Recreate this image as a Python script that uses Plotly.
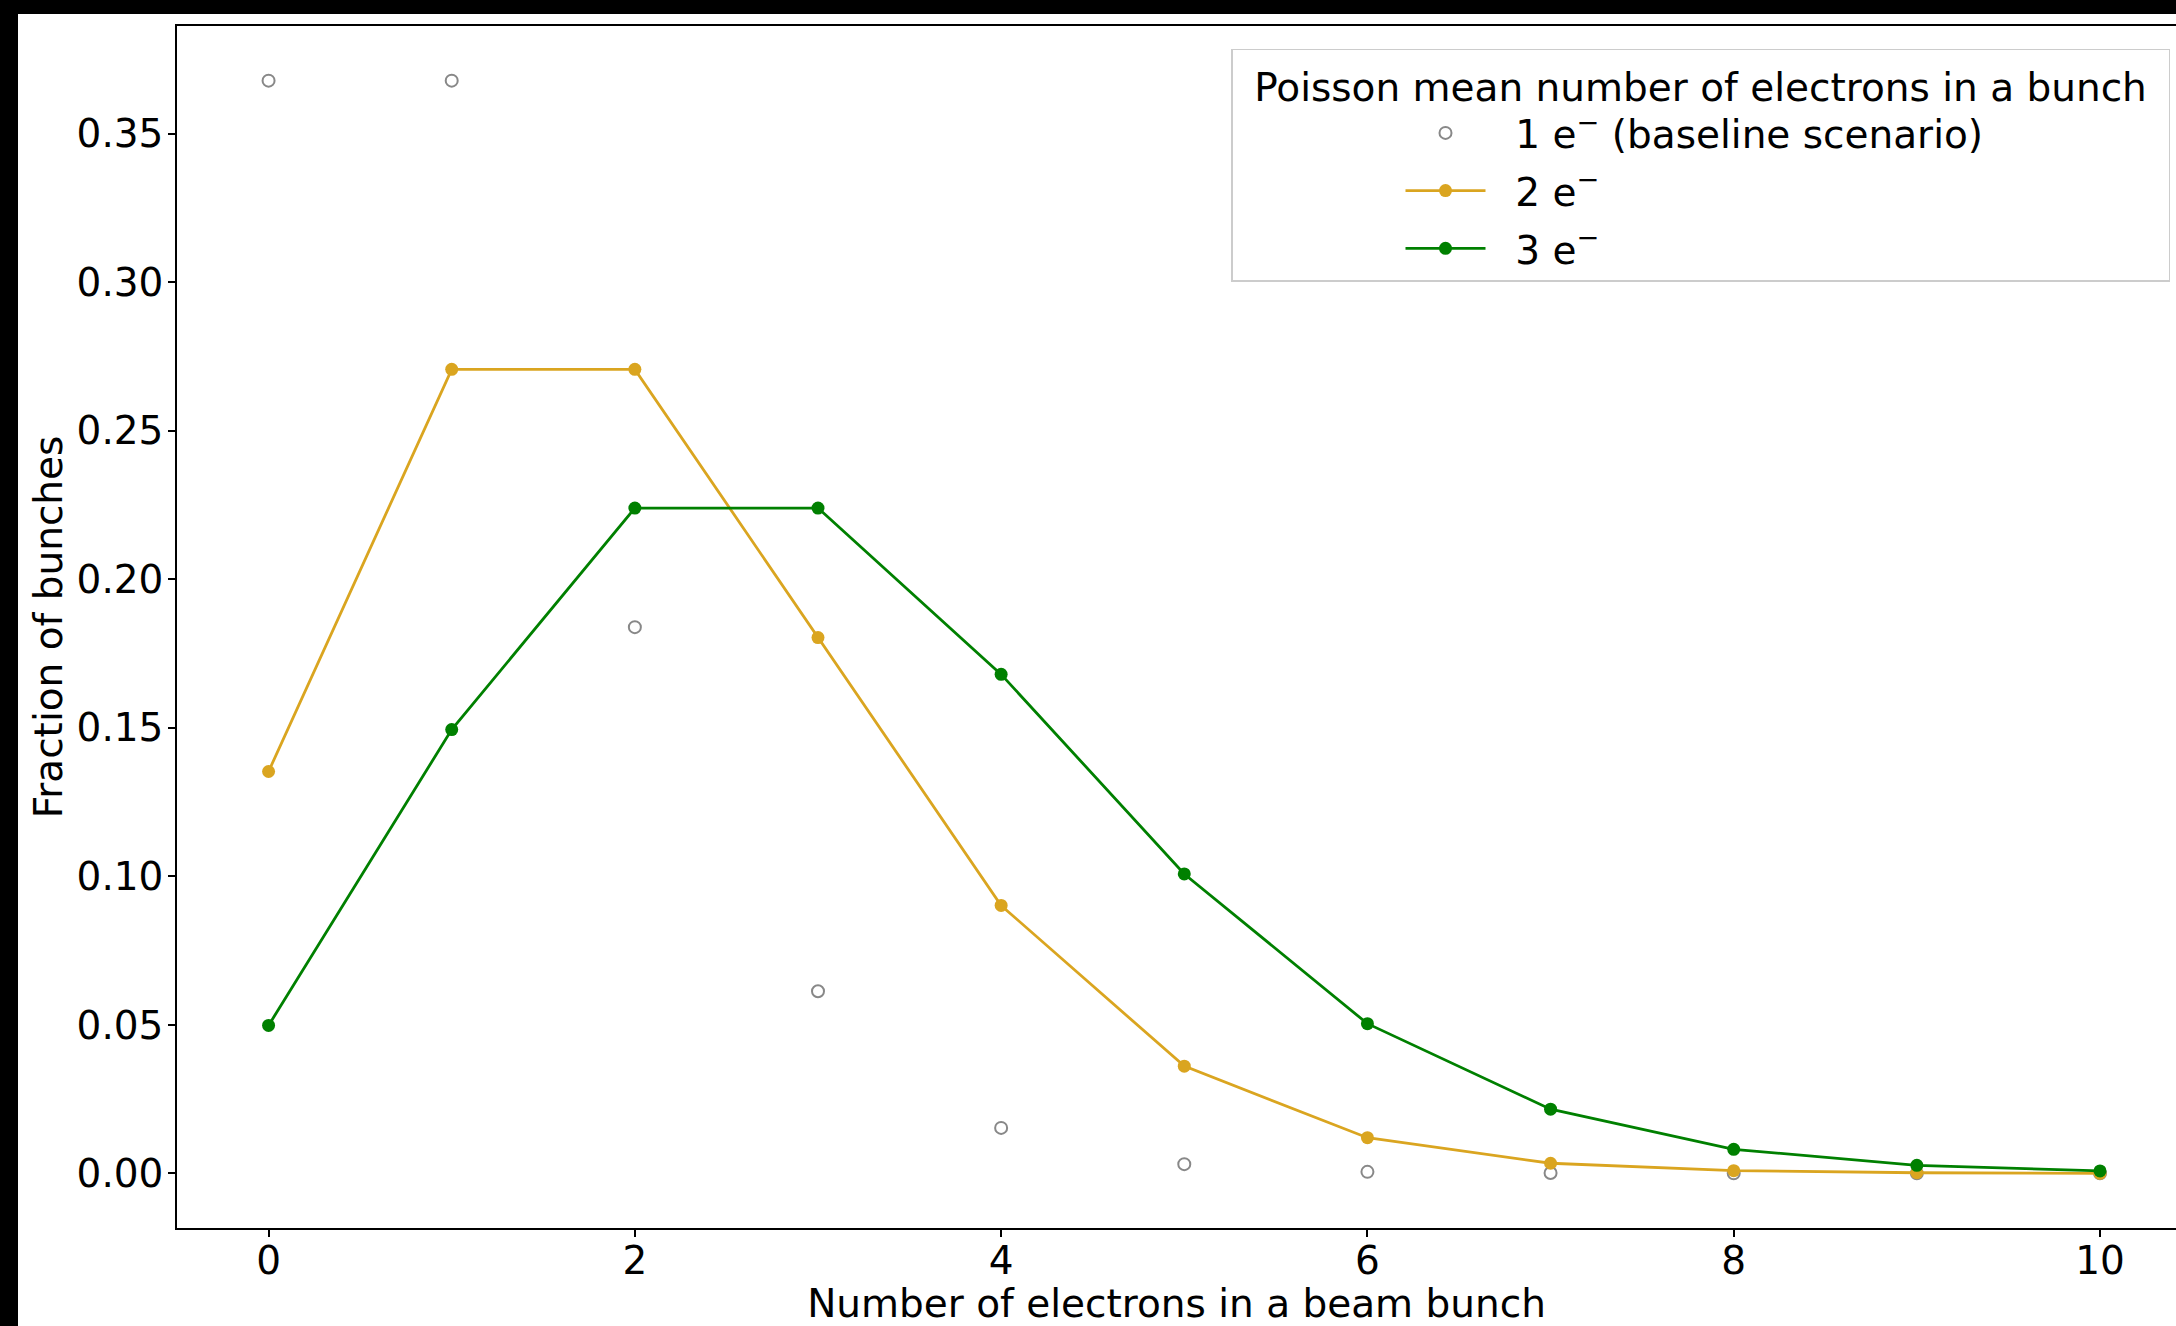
import plotly.graph_objects as go

# ---- data ----
n_electrons = [0, 1, 2, 3, 4, 5, 6, 7, 8, 9, 10]
frac_mean1 = [0.3679, 0.3679, 0.1839, 0.0613, 0.0153, 0.0031, 0.0005, 0.0001, 0.0000, 0.0000, 0.0000]
frac_mean2 = [0.1353, 0.2707, 0.2707, 0.1804, 0.0902, 0.0361, 0.0120, 0.0034, 0.0009, 0.0002, 0.0000]
frac_mean3 = [0.0498, 0.1494, 0.2240, 0.2240, 0.1680, 0.1008, 0.0504, 0.0216, 0.0081, 0.0027, 0.0008]
series_names = ["1 e<sup>−</sup> (baseline scenario)", "2 e<sup>−</sup>", "3 e<sup>−</sup>"]
legend_title = "Poisson mean number of electrons in a bunch"
x_ticks = [0, 2, 4, 6, 8, 10]
y_ticks = [0.00, 0.05, 0.10, 0.15, 0.20, 0.25, 0.30, 0.35]

FONT = "DejaVu Sans"
FS = 39
GAP = "\u00a0\u00a0"  # space between legend handle and label

fig = go.Figure()
fig.add_trace(go.Scatter(
    x=n_electrons, y=frac_mean1, mode="markers", name=GAP + series_names[0], legendgroup="g1",
    marker=dict(symbol="circle-open", size=12, color="#888888", line=dict(width=2, color="#888888")),
))
fig.add_trace(go.Scatter(
    x=n_electrons, y=frac_mean2, mode="lines+markers", name=GAP + series_names[1], legendgroup="g2",
    line=dict(color="#DAA520", width=2.8),
    marker=dict(symbol="circle", size=13, color="#DAA520"),
))
fig.add_trace(go.Scatter(
    x=n_electrons, y=frac_mean3, mode="lines+markers", name=GAP + series_names[2], legendgroup="g3",
    line=dict(color="#008000", width=2.8),
    marker=dict(symbol="circle", size=13, color="#008000"),
))

W, H = 2176, 1326
ML, MR, MT, MB = 177, 0, 26, 98
pw = W - ML - MR
ph = H - MT - MB

# white canvas inside the black frame (frame: 18px left, 14px top)
fig.add_shape(type="rect", xref="paper", yref="paper", layer="below",
              x0=(18 - ML) / pw, x1=1.0 + 2 / pw,
              y0=-(MB + 2) / ph, y1=(H - MB - 14) / ph,
              fillcolor="white", line=dict(width=0))

fig.update_layout(
    width=W, height=H, autosize=False,
    margin=dict(l=ML, r=MR, t=MT, b=MB, pad=0),
    paper_bgcolor="black", plot_bgcolor="white",
    font=dict(family=FONT, size=FS, color="black"),
    showlegend=True,
    legend=dict(
        x=0.997, xanchor="right", y=0.981, yanchor="top",
        bgcolor="rgba(255,255,255,0.8)", bordercolor="#cccccc", borderwidth=1.5,
        title=dict(text="\u2002" + legend_title + "\u2002", side="top center",
                   font=dict(family=FONT, size=FS, color="black")),
        font=dict(family=FONT, size=FS, color="black"),
        indentation=168, itemwidth=80, tracegroupgap=4,
    ),
    xaxis=dict(
        range=[-0.5, 10.415], tickvals=x_ticks, ticktext=[str(v) for v in x_ticks],
        showgrid=False, zeroline=False, showline=True, linecolor="black", linewidth=1.5,
        mirror=True, ticks="outside", ticklen=7, tickwidth=1.5, tickcolor="black",
        ticklabelstandoff=-10,
        title=dict(text="Number of electrons in a beam bunch", standoff=3,
                   font=dict(family=FONT, size=FS, color="black")),
        automargin=False,
    ),
    yaxis=dict(
        range=[-0.0184, 0.3863], tickvals=y_ticks, ticktext=[f"{v:.2f}" for v in y_ticks],
        showgrid=False, zeroline=False, showline=True, linecolor="black", linewidth=1.5,
        mirror=False, ticks="outside", ticklen=7, tickwidth=1.5, tickcolor="black",
        ticklabelstandoff=-3,
        title=dict(text="Fraction of bunches", standoff=2,
                   font=dict(family=FONT, size=FS, color="black")),
        automargin=False,
    ),
)

fig.write_html("out.html")
